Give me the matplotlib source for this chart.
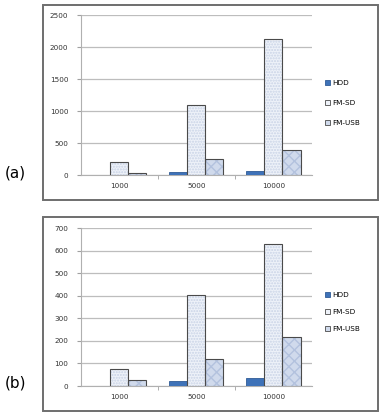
import matplotlib.pyplot as plt
from matplotlib.patches import Rectangle
import numpy as np

# data
categories = ["1000", "5000", "10000"]
series = ["HDD", "FM-SD", "FM-USB"]

hdd_a = [2, 50, 60]
sd_a = [210, 1100, 2120]
usb_a = [40, 250, 400]

hdd_b = [1, 20, 35]
sd_b = [75, 405, 630]
usb_b = [25, 120, 215]

colors = ["#3e72b8", "#eef2f9", "#d0daec"]
hatches = [None, "......", "xxx"]
hatch_cols = [None, "#c9d3e6", "#b3c2de"]

plt.rcParams["font.family"] = "DejaVu Sans"
fig = plt.figure(figsize=(3.8, 4.12), dpi=100)


def panel(rect, vals, ymax, step, label, box_y, label_y, leg_y, leg_sp):
    ax = fig.add_axes(rect)
    x = np.arange(len(categories))
    w = 0.234
    for i, v in enumerate(vals):
        pos = x + (i - 1) * w
        if hatches[i] is None:
            ax.bar(pos, v, w, color=colors[i], edgecolor="#2f5b96", linewidth=0.6,
                   label=series[i], zorder=3)
        else:
            ax.bar(pos, v, w, color=colors[i], edgecolor=hatch_cols[i], hatch=hatches[i],
                   linewidth=0, zorder=3)
            ax.bar(pos, v, w, fill=False, edgecolor="#4a4a4a", linewidth=0.8, zorder=4)
            # legend proxy
            ax.bar([0], [0], 0, color=colors[i], edgecolor="#4a4a4a", linewidth=0.6,
                   label=series[i])
    ax.set_xlim(-0.5, 2.5)
    ax.set_ylim(0, ymax)
    ax.set_yticks(np.arange(0, ymax + 1, step))
    ax.set_xticks(x)
    ax.set_xticklabels(categories)
    ax.set_xticks([0.5, 1.5], minor=True)
    ax.tick_params(axis="x", which="major", length=0, labelsize=5.2, pad=6, colors="#333333")
    ax.tick_params(axis="x", which="minor", length=3, color="#a0a0a0", direction="out")
    ax.tick_params(axis="y", length=3, labelsize=5.2, color="#a0a0a0", labelcolor="#333333", pad=6)
    ax.grid(axis="y", color="#bdbdbd", linewidth=0.9, zorder=0)
    ax.set_axisbelow(True)
    for s in ["top", "right"]:
        ax.spines[s].set_visible(False)
    ax.spines["left"].set_color("#b0b0b0")
    ax.spines["bottom"].set_color("#b0b0b0")
    ax.legend(loc="center left", bbox_to_anchor=(1.04, leg_y), frameon=False, fontsize=5.2,
              handlelength=0.7, handleheight=0.7, handletextpad=0.3, labelspacing=leg_sp,
              borderpad=0)
    fig.add_artist(Rectangle((43 / 380, box_y[0]), 335 / 380, box_y[1] - box_y[0],
                             transform=fig.transFigure, fill=False,
                             edgecolor="#6e6e6e", linewidth=1.4))
    fig.text(5 / 380, label_y, label, fontsize=11, va="center", ha="left")
    return ax


panel([0.213, 0.575, 0.608, 0.3883], [hdd_a, sd_a, usb_a], 2500, 500, "(a)",
      (1 - 200 / 412, 1 - 5 / 412), 1 - 173 / 412, 0.45, 1.9)
panel([0.213, 0.0631, 0.608, 0.3835], [hdd_b, sd_b, usb_b], 700, 100, "(b)",
      (1 - 411 / 412, 1 - 217 / 412), 1 - 383 / 412, 0.47, 1.5)

fig.savefig("out.png", dpi=100)
